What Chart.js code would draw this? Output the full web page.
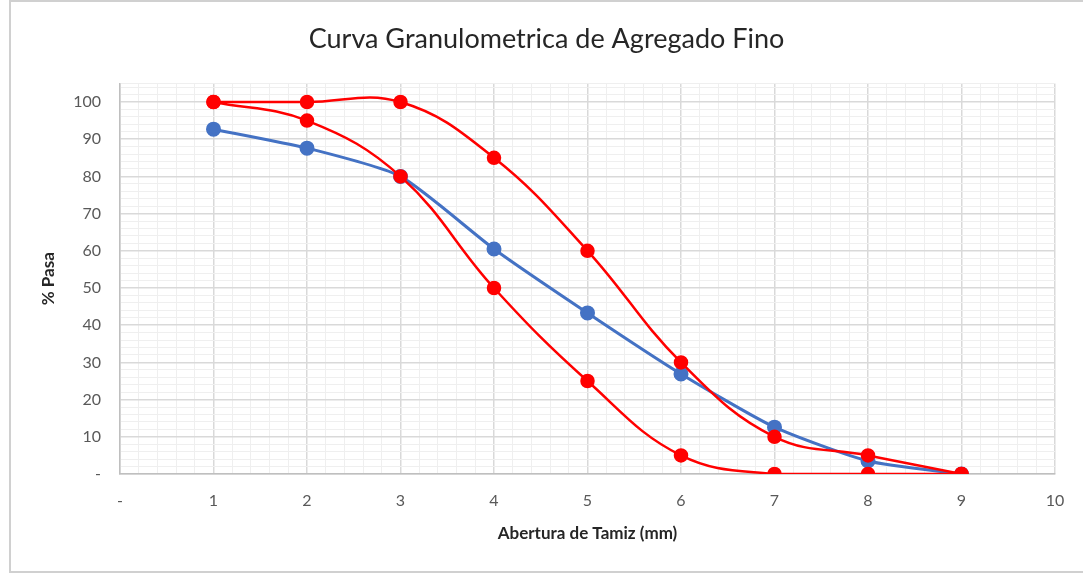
<!DOCTYPE html>
<html>
<head>
<meta charset="utf-8">
<script src="https://cdn.jsdelivr.net/npm/chart.js@4/dist/chart.umd.min.js"></script>
<style>
  html, body { margin: 0; padding: 0; background: #fff; }
  #wrap { width: 1083px; height: 573px; position: relative; }
</style>
</head>
<body>
<div id="wrap"><canvas id="c" width="1083" height="573"></canvas></div>
<script>
// ---- data ----
const titleText = 'Curva Granulometrica de Agregado Fino';
const xTitle = 'Abertura de Tamiz (mm)';
const yTitle = '% Pasa';
const sieveX = [1, 2, 3, 4, 5, 6, 7, 8, 9];
const muestra = [92.7, 87.6, 80, 60.5, 43.3, 26.9, 12.6, 3.5, 0];
const limiteSuperior = [100, 100, 100, 85, 60, 30, 10, 5, 0];
const limiteInferior = [100, 95, 80, 50, 25, 5, 0, 0, 0];
const xTickLabels = ['-', '1', '2', '3', '4', '5', '6', '7', '8', '9', '10'];
const yTickLabels = ['-', '10', '20', '30', '40', '50', '60', '70', '80', '90', '100'];

const toPts = (xs, ys) => xs.map((x, i) => ({ x: x, y: ys[i] }));

const FONT = 'Lato, "Open Sans", sans-serif';

const borderPlugin = {
  id: 'outerBorder',
  afterDraw(chart) {
    const ctx = chart.ctx;
    ctx.save();
    ctx.strokeStyle = '#d0d0d0';
    ctx.lineWidth = 2;
    ctx.strokeRect(10, 1, 1083, 571);
    ctx.restore();
  }
};

new Chart(document.getElementById('c'), {
  type: 'line',
  data: {
    datasets: [
      {
        label: 'Muestra',
        data: toPts(sieveX, muestra),
        borderColor: '#4472c4',
        backgroundColor: '#4472c4',
        borderWidth: 3,
        pointRadius: 6,
        pointHoverRadius: 6,
        tension: 0.2,
        order: 3
      },
      {
        label: 'Limite superior',
        data: toPts(sieveX, limiteSuperior),
        borderColor: '#ff0000',
        backgroundColor: '#ff0000',
        borderWidth: 2.5,
        pointRadius: 6,
        pointHoverRadius: 6,
        tension: 0.4,
        order: 1
      },
      {
        label: 'Limite inferior',
        data: toPts(sieveX, limiteInferior),
        borderColor: '#ff0000',
        backgroundColor: '#ff0000',
        borderWidth: 2.5,
        pointRadius: 6,
        pointHoverRadius: 6,
        tension: 0.4,
        order: 2
      }
    ]
  },
  options: {
    responsive: false,
    animation: false,
    layout: { padding: { left: 38, right: 28, top: 0, bottom: 25 } },
    plugins: {
      legend: { display: false },
      tooltip: { enabled: false },
      title: {
        display: true,
        text: titleText,
        color: '#262626',
        font: { family: FONT, size: 27, weight: 'normal' },
        padding: { top: 23, bottom: 28 }
      }
    },
    scales: {
      x: {
        type: 'linear',
        min: 0,
        max: 10,
        afterBuildTicks(scale) {
          const t = [];
          for (let i = 0; i <= 50; i++) t.push({ value: i / 5 });
          scale.ticks = t;
        },
        afterFit(scale) { scale.height = 74; },
        ticks: {
          autoSkip: false,
          maxRotation: 0,
          padding: 17,
          color: '#595959',
          font: { family: FONT, size: 16 },
          callback(v) {
            const r = Math.round(v);
            if (Math.abs(v - r) < 1e-6) return xTickLabels[r];
            return '';
          }
        },
        grid: {
          drawTicks: false,
          color(ctx) {
            const v = ctx.tick.value;
            return Math.abs(v - Math.round(v)) < 1e-6 ? '#d9d9d9' : '#efefef';
          },
          lineWidth(ctx) {
            const v = ctx.tick.value;
            return Math.abs(v - Math.round(v)) < 1e-6 ? 1.5 : 1;
          }
        },
        border: { color: '#bfbfbf', width: 1.5 },
        title: {
          display: true,
          text: xTitle,
          color: '#262626',
          font: { family: FONT, size: 17, weight: 'bold' },
          padding: { top: 0, bottom: 4 }
        }
      },
      y: {
        type: 'linear',
        min: 0,
        max: 105,
        afterBuildTicks(scale) {
          const t = [];
          for (let v = 0; v <= 104; v += 2) t.push({ value: v });
          t.push({ value: 105 });
          scale.ticks = t;
        },
        afterFit(scale) { scale.width = 82; },
        ticks: {
          autoSkip: false,
          padding: 19,
          color: '#595959',
          font: { family: FONT, size: 16 },
          callback(v) {
            if (v % 10 === 0 && v <= 100) return yTickLabels[v / 10];
            return '';
          }
        },
        grid: {
          drawTicks: false,
          color(ctx) {
            const v = ctx.tick.value;
            return (v % 10 === 0) ? '#d9d9d9' : '#efefef';
          },
          lineWidth(ctx) {
            const v = ctx.tick.value;
            return (v % 10 === 0) ? 1.5 : 1;
          }
        },
        border: { color: '#bfbfbf', width: 1.5 },
        title: {
          display: true,
          text: yTitle,
          color: '#262626',
          font: { family: FONT, size: 17, weight: 'bold' },
          padding: { top: 0, bottom: 0 }
        }
      }
    }
  },
  plugins: [borderPlugin]
});
</script>
</body>
</html>
